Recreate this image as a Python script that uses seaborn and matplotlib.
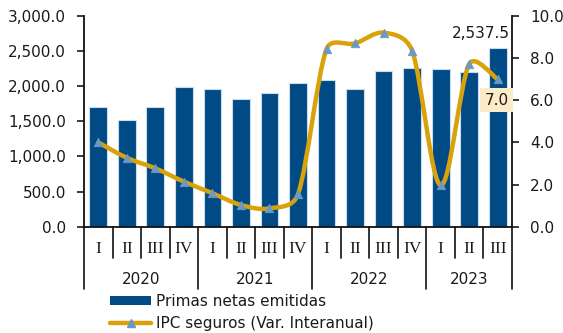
import numpy as np
import pandas as pd
import matplotlib
matplotlib.use("Agg")
import matplotlib.pyplot as plt
from matplotlib.path import Path
from matplotlib.patches import PathPatch, Patch
from matplotlib.lines import Line2D
import matplotlib.transforms as mtransforms
import seaborn as sns

# ---- data ----
years = ["2020", "2021", "2022", "2023"]
quarters = ["I", "II", "III", "IV", "I", "II", "III", "IV",
            "I", "II", "III", "IV", "I", "II", "III"]
quarter_year = ["2020"] * 4 + ["2021"] * 4 + ["2022"] * 4 + ["2023"] * 3
primas = [1700, 1525, 1700, 1990,
          1965, 1820, 1900, 2050,
          2090, 1965, 2217, 2260,
          2241, 2203, 2537.5]
ipc = [4.0, 3.27, 2.77, 2.14,
       1.59, 1.03, 0.87, 1.54,
       8.43, 8.70, 9.21, 8.35,
       1.96, 7.72, 7.0]

BAR = "#004A86"
GOLD = "#D9A20A"
MARK = "#6B98C4"
TXT = "#1A1A1A"

sns.set_theme(style="white")
plt.rcParams["font.family"] = ["DejaVu Sans"]
plt.rcParams["font.size"] = 11

periods = [f"{y}-{q}" for y, q in zip(quarter_year, quarters)]
df = pd.DataFrame({"periodo": periods, "primas": primas, "ipc": ipc})

W, H = 563, 333
fig = plt.figure(figsize=(W / 100, H / 100), dpi=100)
x0, x1, ytop, ybot = 84, 512, 16, 226.7
ax = fig.add_axes([x0 / W, 1 - ybot / H, (x1 - x0) / W, (ybot - ytop) / H])

sns.barplot(data=df, x="periodo", y="primas", ax=ax, color=BAR,
            saturation=1, width=0.62, edgecolor="#C9DCEE", linewidth=0.8,
            order=periods)
ax.set_xlim(-0.5, len(periods) - 0.5)
ax.set_ylim(0, 3000)
ax.set_yticks(np.arange(0, 3001, 500))
ax.set_yticklabels([f"{v:,.1f}" for v in np.arange(0, 3001, 500)])
ax.set_xticks([])
ax.set_xlabel("")
ax.set_ylabel("")
ax.tick_params(axis="y", which="both", left=True, direction="out",
               length=5, width=1.2, pad=8, colors=TXT, labelsize=11)
for s in ("top", "right"):
    ax.spines[s].set_visible(False)
for s in ("left", "bottom"):
    ax.spines[s].set_color("#111111")
    ax.spines[s].set_linewidth(1.3)

# value label for the latest bar
n = len(primas)
ax.annotate(f"{primas[-1]:,.1f}", xy=(n - 1, primas[-1]), xytext=(8.5, 11),
            textcoords="offset points", ha="right", va="center",
            fontsize=11, color=TXT)

# ---- secondary axis: smoothed IPC line ----
ax2 = ax.twinx()
ax2.set_ylim(0, 10)
ax2.set_yticks(np.arange(0, 10.1, 2))
ax2.set_yticklabels([f"{v:.1f}" for v in np.arange(0, 10.1, 2)])
ax2.tick_params(axis="y", which="both", right=True, direction="out",
                length=5, width=1.2, pad=8, colors=TXT, labelsize=11)
ax2.grid(False)
for s in ("top", "left", "bottom"):
    ax2.spines[s].set_visible(False)
ax2.spines["right"].set_color("#111111")
ax2.spines["right"].set_linewidth(1.3)


def smooth_path(xv, yv, axis, k=0.5, cap=1.0 / 6.0):
    """Bezier path through the points (Catmull-Rom tangents), with the
    handle on the shorter side of a point shortened in proportion to the
    on-screen segment lengths."""
    tr = axis.transData
    P = tr.transform(np.column_stack([xv, yv]))
    m = len(P)
    L = np.hypot(*np.diff(P, axis=0).T)
    ctrl_in, ctrl_out = [], []
    for i in range(m):
        prev = P[i - 1] if i > 0 else P[i]
        nxt = P[i + 1] if i < m - 1 else P[i]
        d = nxt - prev
        lin = L[i - 1] if i > 0 else 0.0
        lout = L[i] if i < m - 1 else 0.0
        tot = lin + lout
        f_in = min(cap, k * lin / tot)
        f_out = min(cap, k * lout / tot)
        ctrl_in.append(P[i] - d * f_in)
        ctrl_out.append(P[i] + d * f_out)
    verts = [P[0]]
    codes = [Path.MOVETO]
    for i in range(m - 1):
        verts += [ctrl_out[i], ctrl_in[i + 1], P[i + 1]]
        codes += [Path.CURVE4] * 3
    verts = tr.inverted().transform(np.array(verts))
    return Path(verts, codes)


xs = np.arange(n, dtype=float)
ys = np.asarray(ipc, dtype=float)
ax2.add_patch(PathPatch(smooth_path(xs, ys, ax2), fill=False,
                        edgecolor=GOLD, linewidth=3.2, capstyle="round",
                        joinstyle="round", zorder=3))
sns.scatterplot(x=xs, y=ys, ax=ax2, marker="^", s=38, color=MARK,
                edgecolor=MARK, linewidth=0.5, zorder=4, legend=False)

ax2.annotate(f"{ipc[-1]:.1f}", xy=(n - 1, ipc[-1]), xytext=(-0.7, -15),
             textcoords="offset points", ha="center", va="center",
             fontsize=11, color=TXT, zorder=5,
             bbox=dict(boxstyle="square,pad=0.3", fc="#FBEBC8", ec="none"))

# ---- two-level category axis ----
trans = mtransforms.blended_transform_factory(ax.transData, ax.transAxes)
q_bot = -(258 - ybot) / (ybot - ytop)
y_bot = -(289 - ybot) / (ybot - ytop)
q_lab = -(249 - ybot) / (ybot - ytop)
y_lab = -(280 - ybot) / (ybot - ytop)
year_edges = [0]
for i in range(1, n):
    if quarter_year[i] != quarter_year[i - 1]:
        year_edges.append(i)
year_edges.append(n)
for b in range(n + 1):
    xb = b - 0.5
    bottom = y_bot if b in year_edges else q_bot
    ax.plot([xb, xb], [0, bottom], transform=trans, color="#111111",
            linewidth=1.2, clip_on=False)
for i, q in enumerate(quarters):
    ax.text(i, q_lab, q, transform=trans, ha="center", va="center",
            fontsize=12.5, family=["Liberation Serif", "DejaVu Serif"],
            color=TXT)
for k, y in enumerate(years):
    a, b = year_edges[k], year_edges[k + 1]
    ax.text((a + b - 1) / 2, y_lab, y, transform=trans, ha="center",
            va="center", fontsize=11, color=TXT)

# ---- legend ----
handles = [
    Patch(facecolor=BAR, edgecolor="none"),
    Line2D([0], [0], color=GOLD, linewidth=3.2, marker="^", markersize=6,
           markerfacecolor=MARK, markeredgecolor=MARK),
]
labels = ["Primas netas emitidas", "IPC seguros (Var. Interanual)"]
fig.legend(handles, labels, loc="upper left",
           bbox_to_anchor=(104 / W, 1 - 288 / H), frameon=False,
           fontsize=11, handlelength=2.7, handleheight=0.5,
           handletextpad=0.3, labelspacing=0.45, borderaxespad=0,
           labelcolor=TXT)

fig.savefig("out.png", dpi=100)
